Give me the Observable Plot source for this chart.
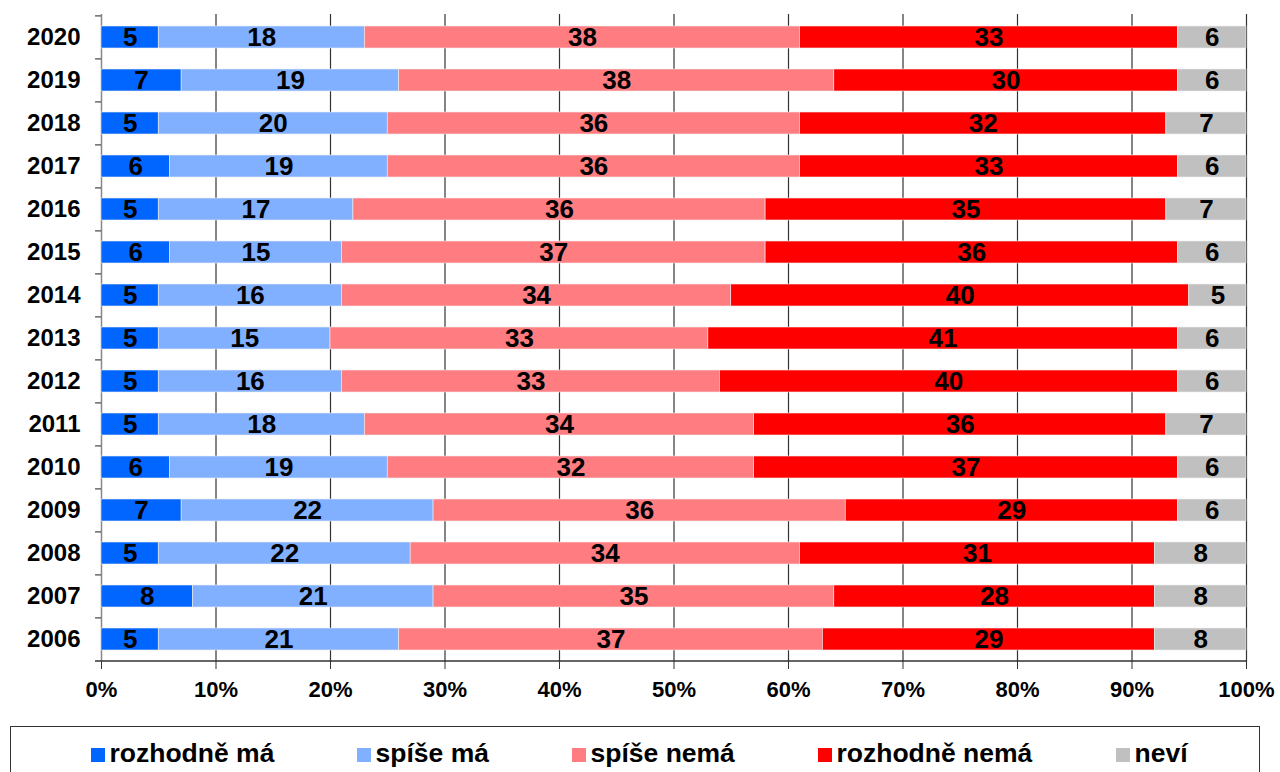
<!DOCTYPE html>
<html>
<head>
<meta charset="utf-8">
<script src="https://cdn.jsdelivr.net/npm/d3@7"></script>
<script src="https://cdn.jsdelivr.net/npm/@observablehq/plot@0.6"></script>
<style>
  html, body { margin: 0; padding: 0; background: #fff; width: 1280px; height: 772px; overflow: hidden; }
  body { font-family: "Liberation Sans", Arial, sans-serif; position: relative; }
  #chart { position: absolute; left: 0; top: 0; }
  #legend { position: absolute; left: 10px; top: 726px; width: 1250px; height: 70px; border: 1.5px solid #333; box-sizing: border-box; }
  .item { position: absolute; top: 0; height: 46px; white-space: nowrap; font-weight: bold; font-size: 26.5px; color: #000; }
  .sw { position: absolute; top: 21px; left: 0; width: 14px; height: 14px; }
  .lab { position: absolute; left: 19px; top: 11px; line-height: 30px; }
</style>
</head>
<body>
<div id="chart"></div>
<div id="legend"></div>
<script>
const years = ["2020","2019","2018","2017","2016","2015","2014","2013","2012","2011","2010","2009","2008","2007","2006"];
const categories = ["rozhodně má","spíše má","spíše nemá","rozhodně nemá","neví"];
const colors = ["#0066FF","#80B0FF","#FF7C80","#FF0000","#C0C0C0"];
const rozhodneMa   = [5,7,5,6,5,6,5,5,5,5,6,7,5,8,5];
const spiseMa      = [18,19,20,19,17,15,16,15,16,18,19,22,22,21,21];
const spiseNema    = [38,38,36,36,36,37,34,33,33,34,32,36,34,35,37];
const rozhodneNema = [33,30,32,33,35,36,40,41,40,36,37,29,31,28,29];
const nevi         = [6,6,7,6,7,6,5,6,6,7,6,6,8,8,8];
const xTicks = [0,10,20,30,40,50,60,70,80,90,100];

const series = [rozhodneMa, spiseMa, spiseNema, rozhodneNema, nevi];
const data = [];
years.forEach((y, i) => {
  categories.forEach((c, j) => data.push({year: y, cat: c, value: series[j][i]}));
});

const H = 712, mTop = 14, mBottom = 50;
const step = (H - mTop - mBottom) / years.length;
const half = step / 2;

const plot = Plot.plot({
  width: 1280,
  height: H,
  marginLeft: 101,
  marginRight: 34,
  marginTop: mTop,
  marginBottom: mBottom,
  style: {fontFamily: "'Liberation Sans', Arial, sans-serif", color: "#000", background: "#fff"},
  x: {domain: [0, 100], label: null},
  y: {domain: years, paddingInner: 0.49, paddingOuter: 0.245, align: 0.5, label: null},
  color: {domain: categories, range: colors},
  marks: [
    Plot.ruleX(xTicks.filter(d => d > 0), {x: d => d, stroke: "#333", strokeWidth: 1.2}),
    Plot.ruleX([0], {stroke: "#888", strokeWidth: 1.5}),
    Plot.barX(data, Plot.stackX({x: "value", y: "year", z: "cat", fill: "cat", order: null, stroke: "#eee", strokeWidth: 0.6, inset: 0})),
    Plot.textX(data, Plot.stackX({x: "value", y: "year", z: "cat", order: null, text: d => String(d.value), fontSize: 26, fontWeight: "bold", fill: "#000"})),
    Plot.ruleY(years, {y: d => d, x1: -0.52, x2: 0, dy: -half, stroke: "#444", strokeWidth: 1.2}),
    Plot.ruleY([years[years.length - 1]], {y: d => d, x1: -0.52, x2: 100, dy: half, stroke: "#333", strokeWidth: 1.5}),
    Plot.axisY({tickSize: 0, tickPadding: 21, fontSize: 24, fontWeight: "bold", label: null}),
    Plot.axisX({ticks: xTicks, tickFormat: d => d + "%", tickSize: 7, tickPadding: 12, fontSize: 22, fontWeight: "bold", stroke: "#333", label: null})
  ]
});
document.getElementById("chart").appendChild(plot);

const swLeft = [91, 357, 572, 818, 1116];
const legend = document.getElementById("legend");
categories.forEach((c, i) => {
  const it = document.createElement("div");
  it.className = "item";
  it.style.left = (swLeft[i] - 10 - 1.5) + "px";
  const sw = document.createElement("span");
  sw.className = "sw";
  sw.style.background = colors[i];
  const lab = document.createElement("span");
  lab.className = "lab";
  lab.textContent = c;
  it.appendChild(sw);
  it.appendChild(lab);
  legend.appendChild(it);
});
</script>
</body>
</html>
